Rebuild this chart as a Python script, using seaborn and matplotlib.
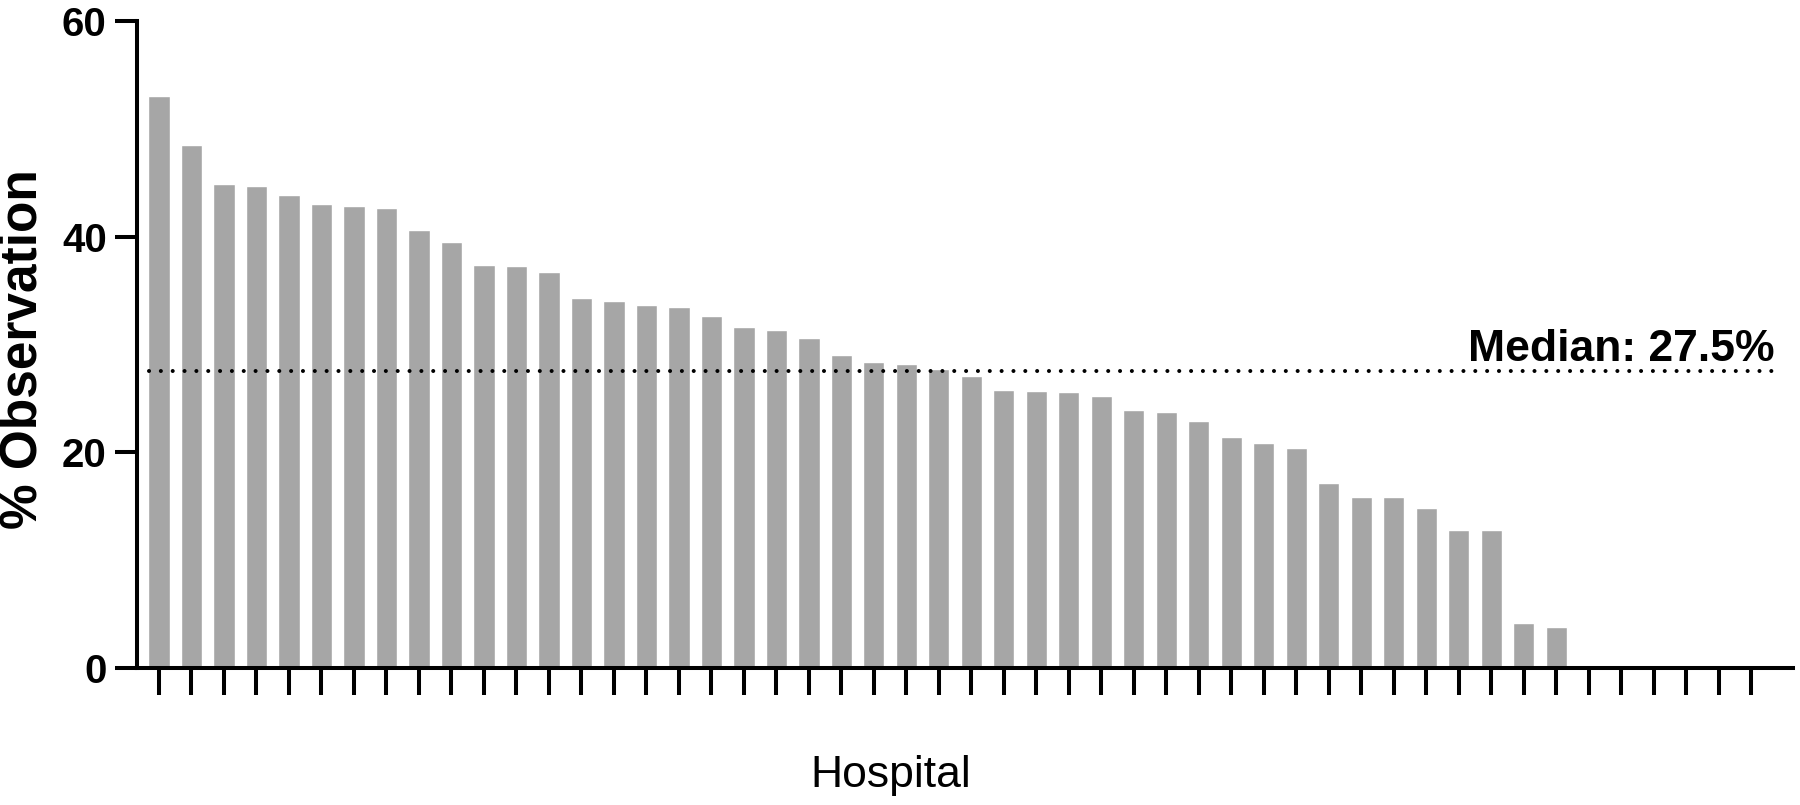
import numpy as np
import pandas as pd
import matplotlib
matplotlib.use("Agg")
import matplotlib.pyplot as plt
import seaborn as sns

# % of stays under observation, hospitals sorted high to low
hospitals = ["H%d" % i for i in range(1, 51)]
pct_observation = [53.0, 48.5, 44.9, 44.7, 43.9, 43.0, 42.8, 42.7, 40.6, 39.5,
                   37.4, 37.3, 36.7, 34.3, 34.0, 33.7, 33.5, 32.6, 31.6, 31.3,
                   30.6, 29.0, 28.4, 28.2, 27.7, 27.1, 25.8, 25.7, 25.6, 25.2,
                   23.9, 23.7, 22.9, 21.4, 20.9, 20.4, 17.2, 15.9, 15.9, 14.8,
                   12.8, 12.8, 4.2, 3.8]
median_pct = 27.5
yticks = [0, 20, 40, 60]

df = pd.DataFrame({"hospital": hospitals[:len(pct_observation)],
                   "pct": pct_observation})

sns.set_style("ticks")
plt.rcParams["font.family"] = ["Liberation Sans", "DejaVu Sans"]
for k in ["text.color", "axes.labelcolor", "xtick.color", "ytick.color", "axes.edgecolor"]:
    plt.rcParams[k] = "black"

fig = plt.figure(figsize=(18, 8.05), dpi=100)
ax = fig.add_axes([0.0761, 0.1702, 0.92, 0.8037])

sns.barplot(data=df, x="hospital", y="pct", order=hospitals, color="#a6a6a6",
            saturation=1, width=0.65, errorbar=None, ax=ax)

# median line
ax.axhline(median_pct, xmin=0.007, xmax=0.994, color="black", lw=2.9,
           linestyle=(0, (0.01, 2.93)), dash_capstyle="round")
ax.text(0.989, median_pct + 0.95, "Median: %.1f%%" % median_pct,
        transform=ax.get_yaxis_transform(), ha="right", va="baseline",
        fontsize=32, fontweight="bold")

ax.set_xlim(-0.677, 50.28)
ax.set_ylim(0, 60)
ax.set_yticks(yticks)
ax.set_yticklabels([str(t) for t in yticks], fontsize=29, fontweight="bold")
ax.tick_params(axis="y", length=15.8, width=2.9, pad=6)
ax.tick_params(axis="x", length=19.4, width=2.9, labelbottom=False)

for s in ["top", "right"]:
    ax.spines[s].set_visible(False)
for s in ["left", "bottom"]:
    ax.spines[s].set_linewidth(2.9)

ax.set_xlabel("Hospital", fontsize=32, va="baseline")
ax.xaxis.set_label_coords(0.455, -0.184)
ax.set_ylabel("% Observation", fontsize=37, fontweight="bold", va="center")
ax.yaxis.set_label_coords(-0.0688, 0.493)

fig.savefig("out.png", dpi=100)
